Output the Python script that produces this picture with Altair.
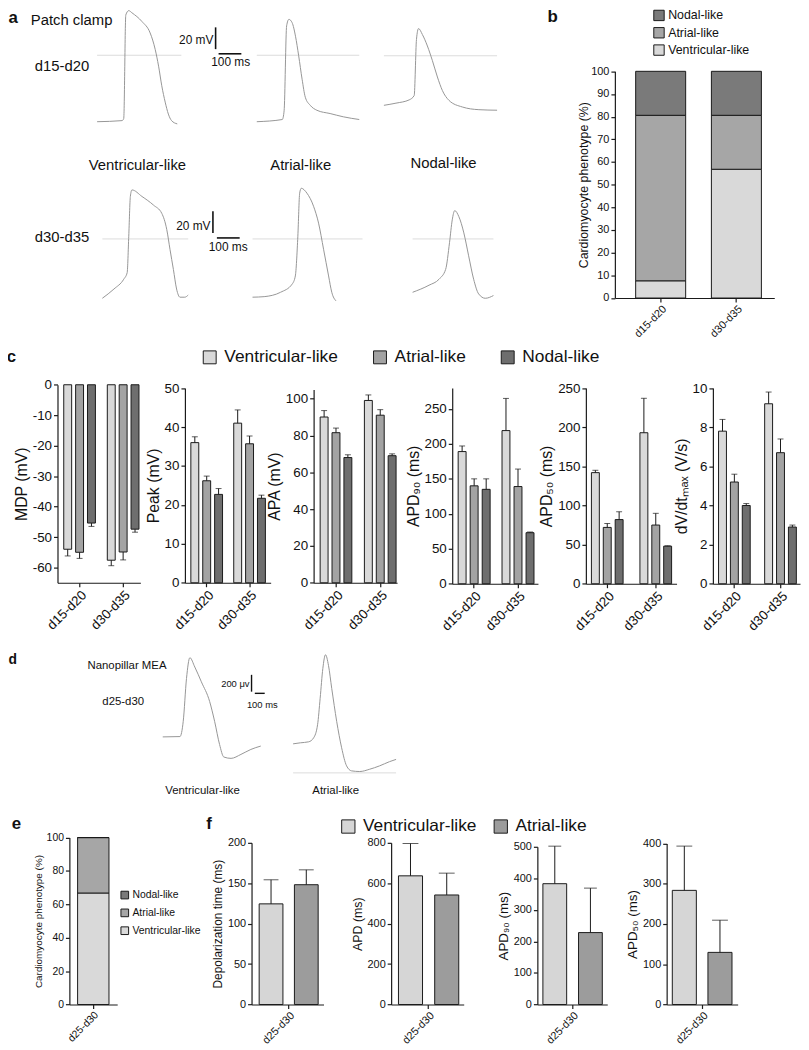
import altair as alt
import pandas as pd

# ---------------- page geometry ----------------
M = 8                      # page margin
W, H = 801, 1042           # whole figure (chart coordinates)
FONT = "Liberation Sans"
INK = "#1a1a1a"
TRACE_C = "#969696"
REF_C = "#dcdcdc"

# ---------------- data ----------------
TYPES3 = ["Ventricular-like", "Atrial-like", "Nodal-like"]
TYPES2 = ["Ventricular-like", "Atrial-like"]
COL3 = ["#d9d9d9", "#a3a3a3", "#6e6e6e"]
COL2 = ["#d6d6d6", "#9c9c9c"]

# panel a: patch clamp traces (time ms, potential mV)
A_V1_T = [0, 110, 117, 126, 139, 153, 197, 233, 255, 270, 284, 299, 313, 327, 352]
A_V1_V = [-61, -60, -58, 37, 41, 39, 31, 20.5, 5.5, -10, -28, -43, -54, -60, -63]
A_A1_T = [0, 112, 120, 131, 141, 155, 170, 184, 199, 213, 235, 264, 322, 380, 450]
A_A1_V = [-61, -59, -51, 27, 33, 30, 17.5, -0.5, -22, -38.5, -46, -50.5, -53.5, -56.5, -59]
A_N1_T = [0, 53, 111, 133, 143, 152, 169, 191, 213, 235, 257, 286, 344, 417, 497]
A_N1_V = [-45.5, -43.5, -40.5, -36.5, 15, 25, 19.5, 9, -4.5, -19.5, -32, -41, -47, -49.5, -50]
A_V2_T = [0, 51, 94, 109, 116, 123, 130, 174, 225, 261, 283, 297, 312, 326, 341, 362, 377]
A_V2_V = [-54.5, -46, -37, -31, 2.5, 39, 45, 39, 31, 23.5, 8.5, -9.5, -28, -46, -53.5, -53.5, -51.5]
A_A2_T = [0, 51, 123, 174, 188, 199, 207, 214, 239, 268, 290, 312, 334, 348, 367]
A_A2_V = [-53.5, -53, -49, -41.5, -34, 2.5, 42, 46.5, 42, 30, 14.5, -9.5, -34, -49, -57]
A_N2_T = [0, 72, 116, 145, 162, 174, 185, 203, 225, 246, 268, 290, 319, 355]
A_N2_V = [-49, -42.5, -37, -28, -3.5, 17.5, 26, 20.5, 5.5, -15.5, -37, -50.5, -54.5, -52]

# panel d: nanopillar MEA traces (time ms, signal uV)
D_V_T = [0, 174, 207, 240, 274, 324, 390, 474, 524, 574, 617, 690, 790, 890, 990]
D_V_V = [0, 4, 185, 694, 941, 830, 655, 420, 185, -90, -239, -255, -208, -149, -109]
D_A_T = [0, 73, 157, 207, 247, 273, 300, 327, 357, 390, 440, 490, 540, 590, 673, 773, 873, 973, 1040]
D_A_V = [0, 12, 24, 71, 227, 541, 894, 1059, 933, 659, 267, -47, -262, -321, -329, -302, -262, -212, -185]

# panel b: phenotype (%) per stage
B_GROUPS = ["d15-d20", "d30-d35"]
B_VENT = [7.6, 56.8]
B_ATR = [73.0, 23.8]
B_NOD = [19.4, 19.4]

# panel c: grouped means (V, A, N for d15-d20 then d30-d35) and SEM
C_GROUPS = ["d15-d20", "d30-d35"]
MDP_MEAN = [-54, -55, -45.4, -57.6, -54.9, -47.4]
MDP_ERR = [2.2, 2.0, 1.1, 1.8, 2.6, 1.0]
PEAK_MEAN = [36, 26.2, 22.7, 41, 35.7, 21.7]
PEAK_ERR = [1.5, 1.2, 1.5, 3.4, 2.0, 0.8]
APA_MEAN = [90, 81.5, 68, 99, 91, 69]
APA_ERR = [3.5, 2.5, 1.5, 3.0, 3.0, 1.0]
APD90_MEAN = [189, 140, 135, 219, 139, 73]
APD90_ERR = [8, 10, 15, 46, 25, 1]
APD50_MEAN = [142, 72, 82, 193, 75, 48]
APD50_ERR = [3, 5, 10, 44, 15, 0.5]
DVDT_MEAN = [7.8, 5.2, 4.0, 9.2, 6.7, 2.9]
DVDT_ERR = [0.6, 0.4, 0.1, 0.6, 0.7, 0.1]

# panel e
E_GROUPS = ["d25-d30"]
E_VENT = [66.8]
E_ATR = [33.2]
E_NOD = [0.0]

# panel f (V, A)
F_GROUPS = ["d25-d30"]
DEP_MEAN = [124.5, 148.2]
DEP_ERR = [29.8, 18.4]
APD_MEAN = [636.7, 542]
APD_ERR = [160, 108]
F90_MEAN = [383, 228]
F90_ERR = [119, 141]
F50_MEAN = [283.6, 129.5]
F50_ERR = [110, 80]

ONE = pd.DataFrame({"k": [0]})
HYPHEN_LABELS = "datum.value < 0 ? '-' + abs(datum.value) : '' + datum.value"


def cx(v):
    return round(v - M, 2)


def cy(v):
    return round(v - M, 2)


def label(s, x, y, size, weight="normal", align="left", font=FONT):
    return alt.Chart(ONE).mark_text(
        text=s, fontSize=size, fontWeight=weight, align=align,
        baseline="alphabetic", font=font, color="#111111"
    ).encode(x=alt.value(cx(x)), y=alt.value(cy(y)))


def hbar(x1, x2, y, w=1.6):
    return alt.Chart(ONE).mark_rule(color="#111111", strokeWidth=w).encode(
        x=alt.value(cx(x1)), x2=alt.value(cx(x2)), y=alt.value(cy(y)))


def vbar(x, y1, y2, w=1.6):
    return alt.Chart(ONE).mark_rule(color="#111111", strokeWidth=w).encode(
        x=alt.value(cx(x)), y=alt.value(cy(y1)), y2=alt.value(cy(y2)))


def trace(t, v, x0, y0, pt, pv, vdom, ref_end, ref_v=0.0, width=1.0):
    df = pd.DataFrame({"t": t, "v": v})
    xs = alt.Scale(domain=[0, ref_end], range=[cx(x0), cx(x0 + ref_end * pt)], nice=False, zero=False)
    ys = alt.Scale(domain=vdom, range=[cy(y0 - vdom[0] * pv), cy(y0 - vdom[1] * pv)], nice=False, zero=False)
    line = alt.Chart(df).mark_line(color=TRACE_C, strokeWidth=width, interpolate="monotone").encode(
        x=alt.X("t:Q", scale=xs, axis=None), y=alt.Y("v:Q", scale=ys, axis=None))
    if ref_v is None:
        return line
    ref = alt.Chart(ONE).mark_rule(color=REF_C, strokeWidth=1).encode(
        x=alt.XDatum(0, type="quantitative", scale=xs, axis=None),
        x2=alt.X2Datum(ref_end),
        y=alt.YDatum(ref_v, type="quantitative", scale=ys, axis=None))
    return alt.layer(ref, line)


def band_params(a0, a1, L, R, G, n):
    S = (R - L - G) / (n - 1) if n > 1 else G
    pi = 1 - G / S
    left = (a1 - a0) - (R - L)
    po = left / (2 * S)
    al = (L - a0) / left if left > 0 else 0.5
    return pi, po, al


def axes(a0, ybot, ticks, title, label_size, title_size, tick_len=4, title_pad=3):
    xaxis = alt.Axis(orient="bottom", offset=cy(ybot) - H, labelAngle=-45, title=None,
                     labelFontSize=label_size, tickSize=tick_len, labelPadding=1)
    yaxis = alt.Axis(orient="left", offset=-cx(a0), values=ticks, title=title,
                     labelExpr=HYPHEN_LABELS,
                     titleFontSize=title_size, labelFontSize=label_size, tickSize=tick_len,
                     labelPadding=2, titlePadding=title_pad)
    return xaxis, yaxis


def bar_panel(groups, types, colors, means, errs, *, a0, a1, L, R, G, w, ybot, ytop,
              domain, ticks, title, label_size, title_size, cap, legend=None, down=False):
    n, nb = len(groups), len(types)
    pi, po, al = band_params(a0, a1, L, R, G, n)
    s = (G - w) / (nb - 1)
    pi2 = 1 - w / s
    rows, k = [], 0
    for g in groups:
        for t in types:
            m, e = means[k], errs[k]
            rows.append({"group": g, "type": t, "mean": m, "top": (m - e) if down else (m + e)})
            k += 1
    df = pd.DataFrame(rows)
    xs = alt.Scale(range=[cx(a0), cx(a1)], paddingInner=pi, paddingOuter=po, align=al)
    xos = alt.Scale(domain=types, paddingInner=pi2, paddingOuter=0)
    ys = alt.Scale(domain=domain, range=[cy(ybot), cy(ytop)], nice=False, zero=False)
    xaxis, yaxis = axes(a0, ybot, ticks, title, label_size, title_size)
    X = alt.X("group:N", sort=groups, scale=xs, axis=xaxis)
    XO = alt.XOffset("type:N", sort=types, scale=xos)
    bars = alt.Chart(df).mark_bar(stroke=INK, strokeWidth=1).encode(
        x=X, xOffset=XO,
        y=alt.Y("mean:Q", scale=ys, axis=yaxis), y2=alt.Y2Datum(0),
        color=alt.Color("type:N", scale=alt.Scale(domain=types, range=colors), legend=legend))
    err = alt.Chart(df).mark_rule(color=INK, strokeWidth=1).encode(
        x=X, xOffset=XO, y="mean:Q", y2="top:Q")
    caps = alt.Chart(df).mark_tick(color=INK, thickness=1, size=cap).encode(
        x=X, xOffset=XO, y="top:Q")
    return alt.layer(bars, err, caps)


def stack_panel(groups, vent, atr, nod, colors, *, a0, a1, L, R, G, ybot, ytop, ticks,
                title, label_size, title_size, legend, title_pad=3):
    n = len(groups)
    pi, po, al = band_params(a0, a1, L, R, G, n)
    stack_order = ["Ventricular-like", "Atrial-like", "Nodal-like"]
    legend_order = ["Nodal-like", "Atrial-like", "Ventricular-like"]
    rows = []
    for i, g in enumerate(groups):
        for t, vals in zip(stack_order, [vent, atr, nod]):
            rows.append({"group": g, "type": t, "value": vals[i], "ord": stack_order.index(t)})
    df = pd.DataFrame(rows)
    xs = alt.Scale(range=[cx(a0), cx(a1)], paddingInner=pi, paddingOuter=po, align=al)
    ys = alt.Scale(domain=[0, 100], range=[cy(ybot), cy(ytop)], nice=False, zero=False)
    xaxis, yaxis = axes(a0, ybot, ticks, title, label_size, title_size, title_pad=title_pad)
    return alt.Chart(df).mark_bar(stroke=INK, strokeWidth=1).encode(
        x=alt.X("group:N", sort=groups, scale=xs, axis=xaxis),
        y=alt.Y("value:Q", stack="zero", scale=ys, axis=yaxis),
        order=alt.Order("ord:Q"),
        color=alt.Color("type:N", scale=alt.Scale(domain=legend_order, range=colors), legend=legend))


def legend(x, y, size, sym, *, horizontal=False, col_pad=10, row_pad=4, offset=5):
    kw = dict(orient="none", legendX=cx(x), legendY=cy(y), title=None, labelFontSize=size,
              labelFont=FONT, labelColor="#111111", symbolType="square", symbolSize=sym,
              symbolStrokeColor=INK, symbolStrokeWidth=1, symbolOpacity=1,
              labelOffset=offset, padding=0, rowPadding=row_pad, columnPadding=col_pad)
    if horizontal:
        kw["direction"] = "horizontal"
    return alt.Legend(**kw)


layers = []

# ---------------- panel a ----------------
PT, PV = 0.23, 1.1          # px per ms, px per mV
VD = [-70, 50]
layers += [
    trace(A_V1_T, A_V1_V, 98, 50.5, PT, PV, VD, 370),
    trace(A_A1_T, A_A1_V, 259.3, 50.5, PT, PV, VD, 450),
    trace(A_N1_T, A_N1_V, 387.7, 51, PT, PV, VD, 497),
    trace(A_V2_T, A_V2_V, 103.3, 236, PT, PV, VD, 377),
    trace(A_A2_T, A_A2_V, 255, 236, PT, PV, VD, 483),
    trace(A_N2_T, A_N2_V, 416.7, 236, PT, PV, VD, 355),
]
layers += [
    label("a", 8.5, 18, 17, "bold"),
    label("Patch clamp", 31, 19.5, 15),
    label("d15-d20", 35, 66, 15),
    label("d30-d35", 35, 239.5, 15),
    label("Ventricular-like", 138.7, 166.7, 15, align="center"),
    label("Atrial-like", 303.7, 166.7, 15, align="center"),
    label("Nodal-like", 448, 164, 15, align="center"),
    vbar(217.7, 44.3 - 20 * PV, 44.3), hbar(220.7, 220.7 + 100 * PT, 49),
    label("20 mV", 215.5, 39.3, 12, align="right"), label("100 ms", 213.3, 61.7, 12),
    vbar(215, 230 - 20 * PV, 230), hbar(219, 219 + 100 * PT, 235),
    label("20 mV", 212.5, 226.7, 12, align="right"), label("100 ms", 210.7, 247.7, 12),
]

# ---------------- panel b ----------------
layers += [
    label("b", 553, 16.7, 17, "bold"),
    stack_panel(B_GROUPS, B_VENT, B_ATR, B_NOD, ["#7a7a7a", "#a6a6a6", "#d9d9d9"],
                a0=621, a1=782, L=642, R=769, G=50.5, ybot=295.7, ytop=66.7,
                ticks=list(range(0, 101, 10)), title="Cardiomyocyte phenotype (%)",
                label_size=11, title_size=12.5, title_pad=0,
                legend=legend(659.3, 4, 12.5, 110, row_pad=2.5, offset=3)),
]

# ---------------- panel c ----------------
c_common = dict(label_size=13.5, title_size=16, cap=6)
layers += [
    label("c", 6.7, 360.7, 17, "bold"),
    bar_panel(C_GROUPS, TYPES3, COL3, MDP_MEAN, MDP_ERR, a0=58, a1=141.7, L=64.3, R=140.3, G=32, w=8,
              ybot=583.3, ytop=383.3, domain=[-65, 0], ticks=list(range(0, -61, -10)),
              title="MDP (mV)", down=True,
              legend=legend(203, 346.5, 17.5, 170, horizontal=True, col_pad=33, offset=6), **c_common),
    bar_panel(C_GROUPS, TYPES3, COL3, PEAK_MEAN, PEAK_ERR, a0=186.7, a1=273.3, L=192.7, R=268, G=32, w=8,
              ybot=583.3, ytop=386.7, domain=[0, 50], ticks=list(range(0, 51, 10)),
              title="Peak (mV)", **c_common),
    bar_panel(C_GROUPS, TYPES3, COL3, APA_MEAN, APA_ERR, a0=316.7, a1=401, L=323.3, R=400, G=32, w=8,
              ybot=583.3, ytop=388, domain=[0, 105], ticks=list(range(0, 101, 20)),
              title="APA (mV)", **c_common),
    bar_panel(C_GROUPS, TYPES3, COL3, APD90_MEAN, APD90_ERR, a0=456.7, a1=543.3, L=462.7, R=539.3, G=32.3, w=8,
              ybot=584.3, ytop=386.5, domain=[0, 280], ticks=list(range(0, 251, 50)),
              title="APD₉₀ (ms)", **c_common),
    bar_panel(C_GROUPS, TYPES3, COL3, APD50_MEAN, APD50_ERR, a0=591.7, a1=683.3, L=597.3, R=678.3, G=32, w=8,
              ybot=584.3, ytop=386.7, domain=[0, 250], ticks=list(range(0, 251, 50)),
              title="APD₅₀ (ms)", **c_common),
    bar_panel(C_GROUPS, TYPES3, COL3, DVDT_MEAN, DVDT_ERR, a0=720, a1=808, L=725.7, R=804.3, G=32, w=8,
              ybot=584.3, ytop=386.7, domain=[0, 10], ticks=list(range(0, 11, 2)),
              title="dV/dtₘₐₓ (V/s)", **c_common),
]

# ---------------- panel d ----------------
DT, DVPX = 0.1, 0.085     # px per ms, px per uV
layers += [
    trace(D_V_T, D_V_V, 164.3, 739, DT, DVPX, [-400, 1100], 990, ref_v=None),
    trace(D_A_T, D_A_V, 296, 746, DT, DVPX, [-400, 1100], 1040, ref_v=-345),
    label("d", 8.5, 665, 14, "bold"),
    label("Nanopillar MEA", 88.3, 670.7, 11.5),
    label("d25-d30", 103.3, 706.7, 11.5),
    vbar(254, 693.3 - 200 * DVPX, 693.3, 1.4), hbar(257.3, 257.3 + 100 * DT, 695, 1.4),
    label("200 μv", 252, 688.3, 9.5, align="right"),
    label("100 ms", 249.3, 710, 9.5),
    label("Ventricular-like", 204.5, 796.7, 11.5, align="center"),
    label("Atrial-like", 339, 796.7, 11.5, align="center"),
]

# ---------------- panel e ----------------
layers += [
    label("e", 11.7, 831.7, 17, "bold"),
    stack_panel(E_GROUPS, E_VENT, E_ATR, E_NOD, ["#7a7a7a", "#a6a6a6", "#d9d9d9"],
                a0=70, a1=118.3, L=78.3, R=110, G=31.7, ybot=1009.3, ytop=840.7,
                ticks=list(range(0, 101, 20)), title="Cardiomyocyte phenotype (%)",
                label_size=10.5, title_size=10,
                legend=legend(120.7, 893.5, 10.5, 60, row_pad=5, offset=2.5)),
]

# ---------------- panel f ----------------
layers += [
    label("f", 208.3, 831.7, 17, "bold"),
    bar_panel(F_GROUPS, TYPES2, COL2, DEP_MEAN, DEP_ERR, a0=254, a1=326.7, L=261.7, R=321.3, G=59.6, w=24,
              ybot=1009.3, ytop=846, domain=[0, 200], ticks=list(range(0, 201, 50)),
              title="Depolarization time (ms)", label_size=11, title_size=12, cap=15,
              legend=legend(343, 820.5, 17.5, 180, horizontal=True, col_pad=15, offset=6)),
    bar_panel(F_GROUPS, TYPES2, COL2, APD_MEAN, APD_ERR, a0=395, a1=468.3, L=402.4, R=463.3, G=60.9, w=24.3,
              ybot=1009.3, ytop=846, domain=[0, 800], ticks=list(range(0, 801, 200)),
              title="APD (ms)", label_size=11, title_size=12.5, cap=16),
    bar_panel(F_GROUPS, TYPES2, COL2, F90_MEAN, F90_ERR, a0=542.7, a1=613.3, L=548.3, R=608.3, G=60, w=24,
              ybot=1009.3, ytop=850, domain=[0, 500], ticks=list(range(0, 501, 100)),
              title="APD₉₀ (ms)", label_size=11, title_size=13.5, cap=13),
    bar_panel(F_GROUPS, TYPES2, COL2, F50_MEAN, F50_ERR, a0=673.3, a1=745, L=679, R=739.3, G=60.3, w=24.3,
              ybot=1009.3, ytop=846.7, domain=[0, 400], ticks=list(range(0, 401, 100)),
              title="APD₅₀ (ms)", label_size=11, title_size=13.5, cap=16),
]

chart = (
    alt.layer(*layers)
    .properties(width=W, height=H, padding=0, autosize=alt.AutoSizeParams(type="none"))
    .resolve_scale(x="independent", y="independent", color="independent", xOffset="independent")
    .resolve_axis(x="independent", y="independent")
    .resolve_legend(color="independent")
    .configure(font=FONT)
    .configure_view(stroke=None)
    .configure_axis(grid=False, domainColor=INK, tickColor=INK, labelColor="#111111",
                    titleColor="#111111", titleFontWeight="normal", labelFont=FONT,
                    titleFont=FONT, domainWidth=1.2, tickWidth=1.2)
)

chart.save("out.html", embed_options={"renderer": "svg", "actions": False})
